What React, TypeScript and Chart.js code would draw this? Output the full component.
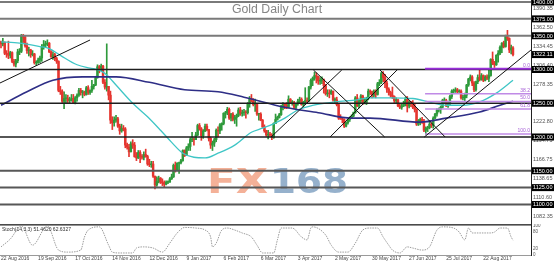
import React, { useEffect, useRef } from 'react';
import { Chart, registerables } from 'chart.js';

Chart.register(...registerables);

// ---------- DATA ----------
// Daily bars from 22 Aug 2016 (bar 0) to 13 Sep 2017 (bar 276), five per row (one week).
const FIRST_OPEN = 1341;
const closes = [
  1338, 1340, 1324, 1323, 1321,
  1325, 1312, 1308, 1313, 1326,
  1327, 1350, 1348, 1335, 1328,
  1329, 1322, 1323, 1310, 1310,
  1314, 1317, 1334, 1337, 1338,
  1339, 1326, 1319, 1322, 1316,
  1312, 1269, 1267, 1253, 1257,
  1257, 1254, 1255, 1257, 1251,
  1258, 1262, 1269, 1266, 1266,
  1263, 1273, 1266, 1269, 1275,
  1277, 1288, 1304, 1302, 1305,
  1281, 1274, 1275, 1262, 1225,
  1221, 1225, 1227, 1216, 1209,
  1213, 1212, 1188, 1185, 1178,
  1190, 1188, 1171, 1169, 1177,
  1171, 1170, 1174, 1171, 1160,
  1159, 1160, 1142, 1129, 1134,
  1139, 1133, 1132, 1130, 1133,
  1133, 1138, 1141, 1158, 1151,
  1161, 1162, 1165, 1180, 1173,
  1184, 1186, 1196, 1197, 1196,
  1203, 1217, 1212, 1202, 1209,
  1216, 1211, 1198, 1188, 1191,
  1196, 1210, 1209, 1218, 1220,
  1235, 1236, 1241, 1228, 1234,
  1226, 1229, 1232, 1240, 1235,
  1236, 1237, 1236, 1249, 1257,
  1253, 1248, 1249, 1234, 1234,
  1225, 1215, 1209, 1203, 1204,
  1203, 1199, 1220, 1226, 1229,
  1233, 1245, 1249, 1247, 1244,
  1256, 1251, 1251, 1244, 1249,
  1253, 1256, 1248, 1252, 1254,
  1253, 1274, 1284, 1287,
  1291, 1290, 1283, 1283, 1285,
  1276, 1264, 1265, 1264, 1268,
  1255, 1255, 1248, 1228, 1227,
  1226, 1216, 1221, 1226, 1228,
  1231, 1236, 1258, 1246, 1254,
  1261, 1251, 1251, 1257, 1268,
  1267, 1262, 1268, 1263, 1279,
  1281, 1294, 1288, 1280, 1271,
  1266, 1262, 1260, 1254, 1255,
  1246, 1244, 1246, 1249, 1256,
  1246, 1252, 1249, 1244, 1241,
  1219, 1224, 1226, 1223, 1210,
  1213, 1214, 1219, 1217, 1228,
  1234, 1240, 1241, 1244, 1254,
  1254, 1246, 1249, 1260, 1268,
  1268, 1270, 1267, 1268, 1258,
  1258, 1262, 1277, 1286, 1289,
  1280, 1270, 1282, 1288, 1285,
  1291, 1284, 1289, 1287, 1291,
  1315, 1309, 1307, 1321, 1324,
  1333, 1339, 1334, 1349, 1346,
  1329, 1332, 1322.11,
];
const highs = [
  1342, 1346, 1341, 1328, 1342,
  1327, 1326, 1315, 1315, 1330,
  1331, 1352, 1352, 1349, 1339,
  1333, 1330, 1328, 1324, 1313,
  1317, 1320, 1337, 1343, 1342,
  1344, 1340, 1328, 1326, 1324,
  1318, 1313, 1275, 1270, 1267,
  1263, 1262, 1259, 1263, 1263,
  1260, 1264, 1272, 1272, 1269,
  1268, 1275, 1276, 1270, 1284,
  1278, 1290, 1307, 1306, 1308,
  1306, 1285, 1338, 1275, 1268,
  1230, 1230, 1232, 1229, 1219,
  1219, 1217, 1214, 1191, 1189,
  1193, 1196, 1192, 1177, 1180,
  1180, 1174, 1178, 1182, 1173,
  1167, 1164, 1164, 1142, 1141,
  1142, 1140, 1138, 1135, 1135,
  1135, 1140, 1145, 1160, 1163,
  1162, 1163, 1167, 1181, 1181,
  1186, 1190, 1199, 1207, 1199,
  1207, 1219, 1220, 1214, 1211,
  1219, 1219, 1211, 1200, 1194,
  1198, 1212, 1215, 1220, 1221,
  1236, 1238, 1244, 1243, 1235,
  1236, 1232, 1234, 1243, 1244,
  1240, 1241, 1239, 1251, 1260,
  1263, 1257, 1256, 1249, 1235,
  1236, 1226, 1218, 1210, 1210,
  1207, 1205, 1221, 1234, 1231,
  1235, 1247, 1251, 1250, 1251,
  1261, 1257, 1254, 1253, 1250,
  1256, 1259, 1258, 1253, 1273,
  1258, 1275, 1286, 1289,
  1296, 1295, 1290, 1288, 1289,
  1286, 1278, 1270, 1270, 1270,
  1268, 1258, 1259, 1249, 1233,
  1228, 1227, 1222, 1227, 1230,
  1233, 1237, 1260, 1263, 1256,
  1263, 1262, 1258, 1259, 1271,
  1270, 1268, 1270, 1270, 1281,
  1285, 1296, 1297, 1293, 1283,
  1273, 1268, 1274, 1261, 1258,
  1256, 1249, 1250, 1253, 1259,
  1260, 1254, 1253, 1254, 1249,
  1242, 1226, 1228, 1229, 1226,
  1215, 1216, 1224, 1221, 1230,
  1235, 1242, 1243, 1246, 1256,
  1258, 1256, 1252, 1262, 1270,
  1271, 1273, 1272, 1270, 1270,
  1262, 1265, 1278, 1287, 1292,
  1291, 1282, 1283, 1292, 1301,
  1294, 1292, 1291, 1292, 1300,
  1316, 1326, 1312, 1322, 1328,
  1335, 1340, 1342, 1351, 1358,
  1347, 1336, 1334,
];
const lows = [
  1332, 1335, 1322, 1318, 1316,
  1317, 1310, 1305, 1304, 1310,
  1322, 1325, 1340, 1333, 1324,
  1320, 1318, 1320, 1308, 1306,
  1309, 1310, 1312, 1330, 1333,
  1335, 1325, 1318, 1315, 1313,
  1309, 1267, 1263, 1251, 1242,
  1250, 1251, 1250, 1253, 1250,
  1249, 1253, 1260, 1262, 1258,
  1261, 1262, 1263, 1263, 1266,
  1271, 1276, 1287, 1295, 1298,
  1279, 1271, 1268, 1255, 1220,
  1211, 1216, 1222, 1214, 1204,
  1207, 1209, 1184, 1182, 1171,
  1178, 1183, 1170, 1165, 1168,
  1162, 1167, 1166, 1170, 1158,
  1156, 1155, 1140, 1123, 1127,
  1132, 1131, 1128, 1126, 1129,
  1131, 1133, 1137, 1140, 1148,
  1150, 1146, 1160, 1164, 1171,
  1173, 1180, 1180, 1193, 1188,
  1196, 1202, 1210, 1195, 1198,
  1208, 1209, 1194, 1183, 1180,
  1186, 1193, 1200, 1205, 1210,
  1218, 1228, 1233, 1226, 1224,
  1224, 1220, 1216, 1230, 1232,
  1231, 1232, 1228, 1234, 1244,
  1252, 1246, 1238, 1232, 1225,
  1224, 1214, 1207, 1201, 1197,
  1201, 1196, 1198, 1220, 1225,
  1228, 1232, 1240, 1242, 1242,
  1243, 1250, 1247, 1242, 1240,
  1247, 1250, 1247, 1244, 1248,
  1250, 1253, 1271, 1276,
  1284, 1280, 1278, 1278, 1279,
  1265, 1262, 1260, 1258, 1263,
  1253, 1251, 1246, 1226, 1226,
  1221, 1214, 1215, 1219, 1223,
  1227, 1230, 1235, 1245, 1243,
  1251, 1248, 1249, 1248, 1255,
  1263, 1258, 1259, 1258, 1262,
  1276, 1279, 1282, 1273, 1266,
  1262, 1259, 1257, 1251, 1251,
  1245, 1242, 1241, 1245, 1246,
  1237, 1243, 1245, 1242, 1237,
  1217, 1217, 1218, 1220, 1208,
  1204, 1208, 1212, 1214, 1213,
  1227, 1231, 1237, 1235, 1243,
  1251, 1245, 1244, 1248, 1257,
  1264, 1266, 1265, 1266, 1256,
  1255, 1253, 1258, 1275, 1283,
  1276, 1267, 1268, 1279, 1283,
  1284, 1282, 1283, 1285, 1282,
  1290, 1307, 1303, 1306, 1311,
  1322, 1325, 1332, 1333, 1343,
  1325, 1323, 1320,
];

// Moving averages, read at sampled bars
const maFastBars = [0, 10, 21, 26, 32, 41, 48, 53, 57, 62, 71, 79, 86, 92, 98, 104, 110, 117, 126, 135, 141, 148, 153, 160, 168, 180, 192, 199, 210, 222, 232, 240, 249, 258, 267, 276];
const maFastValues = [1341, 1339, 1334, 1331, 1321, 1307, 1302, 1299, 1292, 1277, 1250, 1230, 1210, 1192, 1176, 1170, 1169, 1176, 1188, 1207, 1213, 1221, 1228, 1240, 1247, 1252, 1255, 1258, 1258, 1257, 1251, 1247, 1247, 1252, 1265, 1284];
const maSlowBars = [0, 14, 28, 44, 62, 80, 99, 117, 131, 153, 171, 189, 199, 226, 240, 258, 269, 276];
const maSlowValues = [1247, 1267, 1284, 1289, 1289, 1281, 1270, 1267, 1259, 1244, 1236, 1228, 1228, 1222, 1228, 1237, 1247, 1253];

// Stochastic (14,3,3), read at sampled bars
const stochBars = [0, 5, 11, 17, 25, 31, 36, 43, 45, 47, 53, 58, 60, 64, 71, 73, 77, 82, 87, 91, 95, 99, 105, 110, 113, 114, 116, 119, 122, 126, 130, 135, 138, 141, 147, 149, 151, 157, 162, 165, 167, 168, 175, 178, 182, 187, 191, 195, 199, 203, 206, 209, 211, 215, 219, 222, 227, 231, 235, 238, 244, 247, 250, 252, 254, 264, 266, 269, 273, 275, 276];
const stochValues = [28, 55, 100, 34, 100, 17, 10, 17, 62, 86, 97, 34, 10, 7, 7, 24, 28, 24, 10, 41, 76, 95, 93, 86, 62, 28, 41, 86, 93, 86, 76, 62, 34, 7, 7, 52, 93, 93, 62, 52, 93, 97, 69, 34, 10, 10, 41, 86, 93, 93, 62, 34, 17, 7, 28, 24, 17, 28, 86, 97, 93, 79, 52, 93, 76, 76, 79, 93, 93, 62, 51];
const stochCaption = 'Stoch(14,3,3) 51.4620 62.6327';

// Horizontal levels, trend lines (start bar, start price, end bar, end price), Fibonacci
const levelPrices = [1400, 1375, 1350, 1300, 1250, 1200, 1150, 1125, 1100];
const trendLines = [
  [-0.54, 1280, 48, 1343.7],
  [145.6, 1200, 183.7, 1299.3],
  [168.4, 1299.3, 206.8, 1200],
  [177.4, 1200, 213.5, 1299.3],
  [204.3, 1299.3, 239.4, 1200],
  [228.2, 1200, 285.7, 1328.9],
];
const fibLabels = ['0.0', '38.2', '50.0', '61.8', '100.0'];
const fibPrices = [1301, 1264.1, 1252.7, 1241.3, 1204.4];
const fibStartBar = 228.6;

// Axis labels
const priceTicks = [1390.35, 1362.5, 1334.45, 1306.4, 1278.35, 1222.8, 1194.75, 1166.75, 1138.65, 1110.6, 1082.35];
const markedPrices = [1400, 1375, 1350, 1322.11, 1300, 1250, 1200, 1150, 1125, 1100];
const dateTickBars = [0, 20, 40, 60, 80, 100, 120, 140, 160, 180, 200, 220, 240, 260];
const dateTickLabels = ['22 Aug 2016', '19 Sep 2016', '17 Oct 2016', '14 Nov 2016', '12 Dec 2016', '9 Jan 2017', '6 Feb 2017', '6 Mar 2017', '3 Apr 2017', '2 May 2017', '30 May 2017', '27 Jun 2017', '25 Jul 2017', '22 Aug 2017'];
const stochTicks = [0, 20, 80, 100];
const title = 'Gold Daily Chart';

// ---------- CONFIG ----------
const X_MIN = -0.54;
const X_MAX = 285.7;
const P_MIN = 1071.1;
const P_MAX = 1402.96;
const AXIS_W = 23;
const SANS = "'Liberation Sans', Arial, sans-serif";
const NARROW = "'Liberation Sans Narrow', 'Liberation Sans', Arial, sans-serif";
const UP = '#2f9a3c';
const DOWN = '#e5352f';

const opens = closes.map((c, i) => (i === 0 ? FIRST_OPEN : closes[i - 1]));
const candleColors = closes.map((c, i) => (c >= opens[i] ? UP : DOWN));

function stretchText(ctx: any, text: string, x: number, y: number, w: number, color: string) {
  const m = ctx.measureText(text).width;
  ctx.save();
  ctx.translate(x, y);
  ctx.scale(w / m, 1);
  ctx.fillStyle = color;
  ctx.fillText(text, 0, 0);
  ctx.restore();
}

const mainDecor = {
  id: 'mainDecor',
  beforeDatasetsDraw(chart: any) {
    const ctx = chart.ctx;
    ctx.save();
    ctx.font = "bold 34px 'DejaVu Sans', sans-serif";
    ctx.textBaseline = 'alphabetic';
    ctx.textAlign = 'left';
    ctx.globalAlpha = 0.85;
    stretchText(ctx, 'FX', 207, 193, 61, '#f2a386');
    stretchText(ctx, '168', 270, 193, 78, '#84a3c3');
    ctx.restore();
  },
  afterDraw(chart: any) {
    const { ctx, chartArea } = chart;
    const y = chart.scales.y;
    ctx.save();
    ctx.font = '12.3px ' + SANS;
    ctx.fillStyle = '#868686';
    ctx.textAlign = 'center';
    ctx.textBaseline = 'middle';
    ctx.fillText(title, 277, 9.5);

    ctx.font = '5px ' + SANS;
    ctx.fillStyle = '#a660d6';
    ctx.textAlign = 'right';
    ctx.textBaseline = 'bottom';
    fibPrices.forEach((p, i) => {
      ctx.fillText(fibLabels[i], chartArea.right - 1, y.getPixelForValue(p) - 1);
    });

    ctx.font = '5.5px ' + SANS;
    ctx.textAlign = 'left';
    ctx.textBaseline = 'middle';
    markedPrices.forEach((p) => {
      const py = y.getPixelForValue(p);
      ctx.fillStyle = '#000';
      ctx.fillRect(chartArea.right + 1, py - 3.5, AXIS_W - 1, 7);
      ctx.fillStyle = '#fff';
      ctx.fillText(p.toFixed(2), chartArea.right + 2, py + 0.3);
    });
    ctx.restore();
  },
};

const stochDecor = {
  id: 'stochDecor',
  afterDraw(chart: any) {
    const { ctx, chartArea } = chart;
    ctx.save();
    ctx.fillStyle = '#4a4a4a';
    ctx.fillRect(0, 0, chartArea.right, 1.6);
    ctx.fillStyle = '#222';
    ctx.fillRect(chartArea.right, 0, 1, chartArea.top + 1);
    ctx.font = '5px ' + SANS;
    ctx.fillStyle = '#333';
    ctx.textAlign = 'left';
    ctx.textBaseline = 'middle';
    ctx.fillText(stochCaption, 2, 5.5);
    ctx.restore();
  },
};

function line(data: any[], color: string, width: number, order: number, extra: any = {}) {
  return {
    type: 'line',
    data,
    borderColor: color,
    borderWidth: width,
    pointRadius: 0,
    fill: false,
    tension: 0,
    order,
    ...extra,
  };
}

function mainConfig(): any {
  const datasets: any[] = [];
  datasets.push({
    type: 'bar',
    data: closes.map((c, i) => ({ x: i, y: [lows[i], highs[i]] })),
    backgroundColor: candleColors,
    barThickness: 1,
    grouped: false,
    borderWidth: 0,
    order: 9,
  });
  datasets.push({
    type: 'bar',
    data: closes.map((c, i) => ({ x: i, y: [opens[i], c] })),
    backgroundColor: candleColors,
    barThickness: 1.8,
    minBarLength: 0.7,
    grouped: false,
    borderWidth: 0,
    order: 8,
  });
  datasets.push(line(maFastBars.map((b, i) => ({ x: b, y: maFastValues[i] })), '#3fc6c6', 1.3, 7, { cubicInterpolationMode: 'monotone' }));
  datasets.push(line(maSlowBars.map((b, i) => ({ x: b, y: maSlowValues[i] })), '#2e2e86', 1.6, 6, { cubicInterpolationMode: 'monotone' }));
  levelPrices.forEach((p) => {
    const strong = p === 1300 || p === 1250 || p === 1200;
    const top = p >= 1350;
    datasets.push(line([{ x: X_MIN, y: p }, { x: X_MAX, y: p }], strong ? '#1e1e1e' : top ? '#7a7a7a' : '#575757', strong ? 1.3 : 2, 5));
  });
  fibPrices.forEach((p, i) => {
    datasets.push(line([{ x: fibStartBar, y: p }, { x: X_MAX, y: p }], i === 0 ? '#9830d8' : '#c08ae6', i === 0 ? 2 : 1.5, 4));
  });
  trendLines.forEach((t) => {
    datasets.push(line([{ x: t[0], y: t[1] }, { x: t[2], y: t[3] }], '#111', 1, 3));
  });

  return {
    type: 'bar',
    data: { datasets },
    options: {
      responsive: false,
      maintainAspectRatio: false,
      devicePixelRatio: 1,
      animation: false,
      events: [],
      layout: { padding: 0 },
      plugins: { legend: { display: false }, tooltip: { enabled: false }, title: { display: false } },
      scales: {
        x: { type: 'linear', min: X_MIN, max: X_MAX, offset: false, display: false },
        y: {
          type: 'linear',
          position: 'right',
          min: P_MIN,
          max: P_MAX,
          grid: { display: false, drawTicks: false },
          border: { display: true, color: '#222', width: 1 },
          afterBuildTicks: (s: any) => { s.ticks = priceTicks.map((v) => ({ value: v })); },
          afterFit: (s: any) => { s.width = AXIS_W; s.paddingTop = 0; s.paddingBottom = 0; },
          ticks: {
            autoSkip: false,
            padding: 2,
            color: '#555',
            font: { size: 5.5, family: SANS },
            callback: (v: any) => Number(v).toFixed(2),
          },
        },
      },
    },
    plugins: [mainDecor],
  };
}

function stochConfig(): any {
  return {
    type: 'line',
    data: {
      datasets: [
        line(stochBars.map((b, i) => ({ x: b, y: stochValues[i] })), '#9c9c9c', 1, 1, {
          cubicInterpolationMode: 'monotone',
          borderDash: [1.5, 1],
        }),
      ],
    },
    options: {
      responsive: false,
      maintainAspectRatio: false,
      devicePixelRatio: 1,
      animation: false,
      events: [],
      layout: { padding: { top: 2, left: 0, right: 0, bottom: 0 } },
      plugins: { legend: { display: false }, tooltip: { enabled: false } },
      scales: {
        x: {
          type: 'linear',
          min: X_MIN,
          max: X_MAX,
          offset: false,
          grid: { display: false, drawTicks: false },
          border: { display: true, color: '#9a9a9a', width: 1 },
          afterBuildTicks: (s: any) => { s.ticks = dateTickBars.map((v) => ({ value: v })); },
          afterFit: (s: any) => { s.height = 10; s.paddingLeft = 0; s.paddingRight = 0; },
          ticks: {
            autoSkip: false,
            maxRotation: 0,
            align: 'start',
            padding: 1,
            color: '#444',
            font: { size: 5, family: NARROW },
            callback: (v: any) => dateTickLabels[dateTickBars.indexOf(Number(v))],
          },
        },
        y: {
          type: 'linear',
          position: 'right',
          min: 0,
          max: 100,
          grid: { display: false, drawTicks: false },
          border: { display: true, color: '#222', width: 1 },
          afterBuildTicks: (s: any) => { s.ticks = stochTicks.map((v) => ({ value: v })); },
          afterFit: (s: any) => { s.width = AXIS_W; s.paddingTop = 0; s.paddingBottom = 0; },
          ticks: {
            autoSkip: false,
            padding: 2,
            color: '#555',
            font: { size: 4.5, family: SANS },
          },
        },
      },
    },
    plugins: [stochDecor],
  };
}

export default function App() {
  const mainRef = useRef<HTMLCanvasElement>(null);
  const stochRef = useRef<HTMLCanvasElement>(null);

  useEffect(() => {
    const main = new Chart(mainRef.current as HTMLCanvasElement, mainConfig());
    const stoch = new Chart(stochRef.current as HTMLCanvasElement, stochConfig());
    return () => {
      main.destroy();
      stoch.destroy();
    };
  }, []);

  return (
    <div style={{ position: 'fixed', left: 0, top: 0, width: 554, height: 265, background: '#fff' }}>
      <canvas ref={mainRef} width={554} height={224} style={{ display: 'block', width: 554, height: 224 }} />
      <canvas ref={stochRef} width={554} height={41} style={{ display: 'block', width: 554, height: 41 }} />
    </div>
  );
}
